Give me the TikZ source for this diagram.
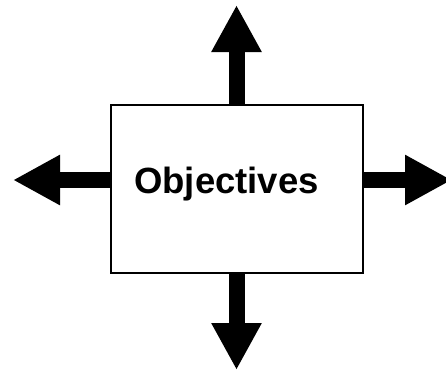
\documentclass[tikz,border=0pt]{standalone}
\usepackage{fontspec}
\setmainfont{Liberation Sans}
\usetikzlibrary{arrows.meta}

\begin{document}
\begin{tikzpicture}[x=1pt,y=-1pt,
  goal/.style={draw,line width=2pt,minimum width=252pt,minimum height=168pt,inner sep=0pt},
  bigarrow/.style={line width=16pt,-{Triangle[length=47pt,width=47pt]}}]
\useasboundingbox (0,0) rectangle (446,373);
\node[goal] (obj) at (237,189) {};
\node[font=\fontsize{36.5}{42}\selectfont\bfseries] (label) at (226.5,184) {Objectives};

\coordinate (up) at (236.5,5);
\coordinate (down) at (236.5,370);
\coordinate (left) at (13,180);
\coordinate (right) at (452,180);

\draw[bigarrow] (up |- obj.north) -- (up);
\draw[bigarrow] (down |- obj.south) -- (down);
\draw[bigarrow] (left -| obj.west) -- (left);
\draw[bigarrow] (right -| obj.east) -- (right);
\end{tikzpicture}
\end{document}
